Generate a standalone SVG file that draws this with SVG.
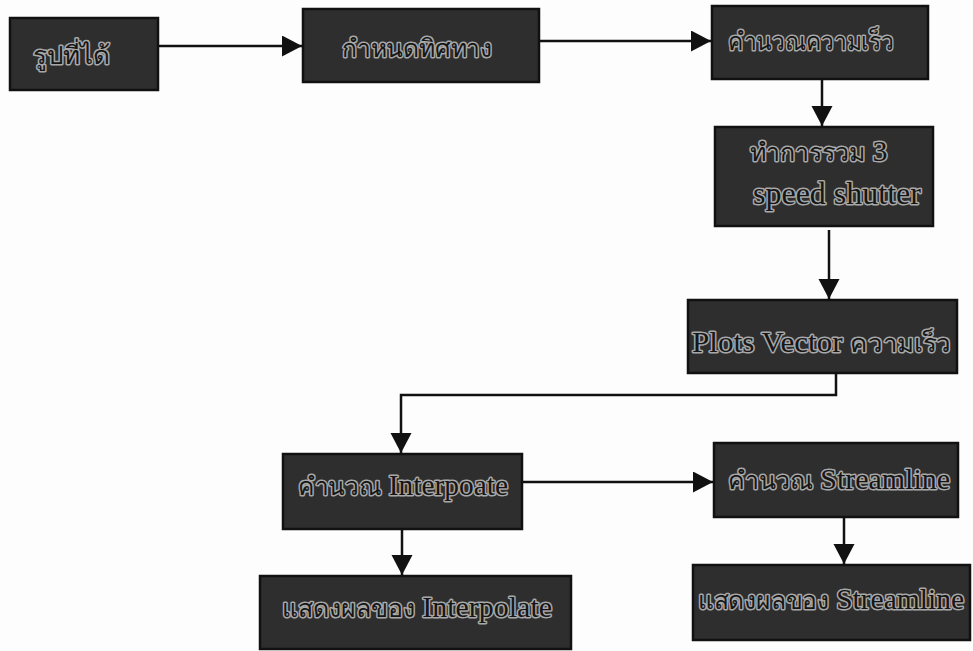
<svg xmlns="http://www.w3.org/2000/svg" width="973" height="651" viewBox="0 0 973 651">
<defs>
<marker id="ah" markerUnits="userSpaceOnUse" markerWidth="22" markerHeight="22" refX="20" refY="10.5" orient="auto">
<path d="M0,0 L20,10.5 L0,21 z" fill="#111"/>
</marker>
<style>
.box{fill:#2e2e2e;stroke:#111;stroke-width:2.5}
.lbl{font-family:"Liberation Serif","DejaVu Serif","Noto Sans",serif;font-size:30px;fill:#161616;stroke:#a8a8a8;stroke-width:3;paint-order:stroke;stroke-linejoin:round}
.th{font-size:25px}
.conn path{fill:none;stroke:#111;stroke-width:2.5;marker-end:url(#ah)}
</style>
</defs>
<rect width="973" height="651" fill="#fdfdfd"/>
<g class="conn" id="connectors">
<path d="M158,46 H302"/>
<path d="M539,41 H711"/>
<path d="M822,79 V126"/>
<path d="M829,230 V299"/>
<path d="M836,373 V395 H401 V453"/>
<path d="M522,482 H713"/>
<path d="M402,529 V575"/>
<path d="M844,517 V564"/>
</g>
<g id="n1"><rect class="box" x="10" y="18" width="148" height="72"/><text class="lbl th" x="33" y="64" textLength="77" lengthAdjust="spacingAndGlyphs">รูปที่ได้</text></g>
<g id="n2"><rect class="box" x="303" y="9" width="236" height="73"/><text class="lbl th" x="342" y="57" textLength="150" lengthAdjust="spacingAndGlyphs">กำหนดทิศทาง</text></g>
<g id="n3"><rect class="box" x="712" y="6" width="216" height="73"/><text class="lbl th" x="728" y="50" textLength="166" lengthAdjust="spacingAndGlyphs">คำนวณความเร็ว</text></g>
<g id="n4"><rect class="box" x="715" y="127" width="218" height="99"/><text class="lbl"><tspan x="750" y="161"><tspan class="th">ทำการรวม</tspan> 3</tspan><tspan x="753" y="204" font-size="32">speed shutter</tspan></text></g>
<g id="n5"><rect class="box" x="688" y="300" width="269" height="73"/><text class="lbl" x="692" y="352" textLength="259" lengthAdjust="spacingAndGlyphs">Plots Vector <tspan class="th">ความเร็ว</tspan></text></g>
<g id="n6"><rect class="box" x="283" y="454" width="239" height="75"/><text class="lbl" x="298" y="495" textLength="210" lengthAdjust="spacingAndGlyphs"><tspan class="th">คำนวณ</tspan> Interpoate</text></g>
<g id="n7"><rect class="box" x="714" y="443" width="244" height="74"/><text class="lbl" x="728" y="489" textLength="222" lengthAdjust="spacingAndGlyphs"><tspan class="th">คำนวณ</tspan> Streamline</text></g>
<g id="n8"><rect class="box" x="260" y="576" width="311" height="73"/><text class="lbl" x="282" y="617" textLength="270" lengthAdjust="spacingAndGlyphs"><tspan class="th">แสดงผลของ</tspan> Interpolate</text></g>
<g id="n9"><rect class="box" x="693" y="565" width="277" height="75"/><text class="lbl" x="698" y="609" textLength="266" lengthAdjust="spacingAndGlyphs"><tspan class="th">แสดงผลของ</tspan> Streamline</text></g>
</svg>
